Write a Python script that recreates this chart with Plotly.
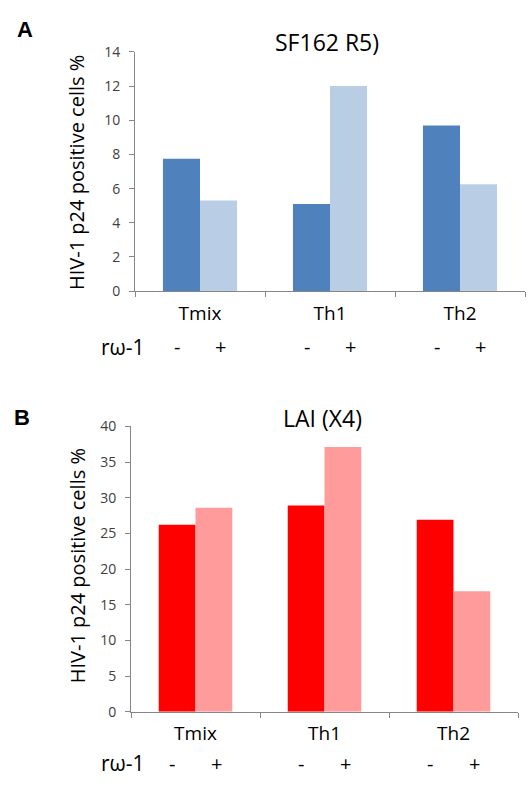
import plotly.graph_objects as go

categories = ["Tmix", "Th1", "Th2"]
a_minus = [7.75, 5.1, 9.7]
a_plus = [5.3, 12.0, 6.25]
b_minus = [26.2, 28.9, 26.9]
b_plus = [28.6, 37.1, 16.9]
sign_labels = ["-", "+"]
ytitle = "HIV-1 p24 positive cells %"
FONT = "Open Sans"
W, H = 529, 789

fig = go.Figure()
fig.add_trace(go.Bar(x=categories, y=a_minus, marker=dict(color="#4F81BD", line_width=0), xaxis="x", yaxis="y", showlegend=False))
fig.add_trace(go.Bar(x=categories, y=a_plus, marker=dict(color="#B9CDE5", line_width=0), xaxis="x", yaxis="y", showlegend=False))
fig.add_trace(go.Bar(x=categories, y=b_minus, marker=dict(color="#FF0000", line_width=0), xaxis="x2", yaxis="y2", showlegend=False))
fig.add_trace(go.Bar(x=categories, y=b_plus, marker=dict(color="#FF9B9B", line_width=0), xaxis="x2", yaxis="y2", showlegend=False))

def px_x(v):
    return v / W

def px_y(v):
    return 1 - v / H

axis_common = dict(showline=True, linecolor="#868686", linewidth=1, showgrid=False, zeroline=False,
                   ticks="outside", ticklen=5, tickcolor="#868686")

fig.update_layout(
    width=W, height=H, margin=dict(l=0, r=0, t=0, b=0),
    paper_bgcolor="white", plot_bgcolor="white",
    bargap=0.43, bargroupgap=0, barmode="group",
    font=dict(family=FONT, color="#000000"),
    xaxis=dict(domain=[px_x(135), px_x(525)], anchor="y", type="category", tickson="boundaries",
               tickfont=dict(size=19, color="#000000"), ticklabelstandoff=5, range=[-0.5, 2.5], **axis_common),
    yaxis=dict(domain=[px_y(288), px_y(43)], anchor="x", range=[0, 14], dtick=2,
               tickfont=dict(size=14, color="#404040"), ticklabelstandoff=6, **axis_common),
    xaxis2=dict(domain=[px_x(131), px_x(518)], anchor="y2", type="category", tickson="boundaries",
                tickfont=dict(size=19, color="#000000"), ticklabelstandoff=5, range=[-0.5, 2.5], **axis_common),
    yaxis2=dict(domain=[px_y(719), px_y(426.7)], anchor="x2", range=[0, 40], dtick=5,
                tickfont=dict(size=14, color="#404040"), ticklabelstandoff=6, **axis_common),
)

ann = []
ann.append(dict(text="<b>A</b>", x=px_x(25), y=px_y(20), xref="paper", yref="paper", showarrow=False,
                font=dict(size=22, family="Liberation Sans"), xanchor="center", yanchor="middle"))
ann.append(dict(text="<b>B</b>", x=px_x(22), y=px_y(418), xref="paper", yref="paper", showarrow=False,
                font=dict(size=22, family="Liberation Sans"), xanchor="center", yanchor="middle"))
ann.append(dict(text="SF162 R5)", x=px_x(327), y=px_y(33), xref="paper", yref="paper", showarrow=False,
                font=dict(size=23), xanchor="center", yanchor="middle"))
ann.append(dict(text="LAI (X4)", x=px_x(323), y=px_y(418), xref="paper", yref="paper", showarrow=False,
                font=dict(size=23), xanchor="center", yanchor="middle"))
for yc in (167, 570):
    ann.append(dict(text=ytitle, x=px_x(77), y=px_y(yc), xref="paper", yref="paper", showarrow=False,
                    textangle=-90, font=dict(size=20), xanchor="center", yanchor="middle"))
for xr, yr in (("x", 345), ("x2", 772)):
    ann.append(dict(text="rω-1", x=px_x(123), y=px_y(yr), xref="paper", yref="paper", showarrow=False,
                    font=dict(size=21), xanchor="center", yanchor="middle"))
    for i, c in enumerate(categories):
        for off, s in zip((-0.18, 0.16), sign_labels):
            ann.append(dict(text=s, x=i + off, y=px_y(yr), xref=xr, yref="paper", showarrow=False,
                            font=dict(size=20), xanchor="center", yanchor="middle"))

fig.update_layout(annotations=ann)
fig.write_html("out.html", config={"displayModeBar": False},
               post_script="document.body.style.margin='0';document.body.style.overflow='hidden';")
